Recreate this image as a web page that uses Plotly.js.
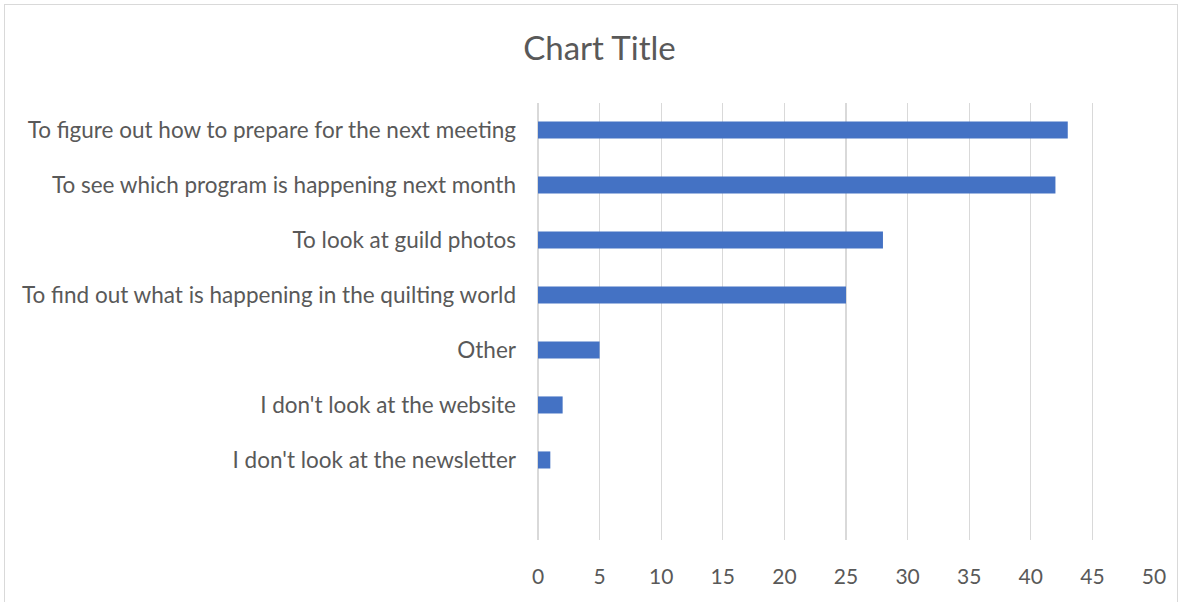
<!DOCTYPE html>
<html>
<head>
<meta charset="utf-8">
<script src="https://cdn.plot.ly/plotly-3.0.1.min.js"></script>
<style>
  html, body { margin: 0; padding: 0; background: #fff; }
  #frame { position: absolute; left: 4px; top: 4px; width: 1172px; height: 640px; border: 1px solid #d9d9d9; }
  #chart { position: absolute; left: 0; top: 0; width: 1180px; height: 602px; }
</style>
</head>
<body>
<div id="frame"></div>
<div id="chart"></div>
<script>
// categories listed bottom to top, like the excel chart
const categories = [
    "I don't look at the newsletter",
    "I don't look at the website",
    "Other",
    "To find out what is happening in the quilting world",
    "To look at guild photos",
    "To see which program is happening next month",
    "To figure out how to prepare for the next meeting"
];
const counts = [1, 2, 5, 25, 28, 42, 43];
const xTicks = [0, 5, 10, 15, 20, 25, 30, 35, 40, 45, 50];

const fontFamily = 'Lato, "Open Sans", sans-serif';

const trace = {
    type: 'bar',
    orientation: 'h',
    x: counts,
    y: categories,
    marker: { color: '#4472C4' },
    hoverinfo: 'x+y'
};

const layout = {
    width: 1180,
    height: 602,
    margin: { l: 538, r: 26, t: 103, b: 62 },
    paper_bgcolor: 'rgba(0,0,0,0)',
    plot_bgcolor: 'rgba(0,0,0,0)',
    showlegend: false,
    bargap: 0.69,
    title: {
        text: 'Chart Title',
        font: { family: fontFamily, size: 33, color: '#595959' },
        x: 0.508,
        xanchor: 'center',
        y: 1 - 48 / 602,
        yanchor: 'middle',
        yref: 'container'
    },
    xaxis: {
        range: [0, 50],
        tickvals: xTicks,
        ticktext: xTicks.map(String),
        showgrid: true,
        gridcolor: '#d9d9d9',
        gridwidth: 1.3,
        zeroline: true,
        zerolinecolor: '#d9d9d9',
        zerolinewidth: 1.3,
        showline: false,
        ticks: '',
        ticklabelstandoff: 22,
        tickfont: { family: fontFamily, size: 21, color: '#595959' },
        fixedrange: true
    },
    yaxis: {
        type: 'category',
        range: [-1.455, 6.49],
        showgrid: false,
        zeroline: false,
        showline: false,
        ticks: '',
        ticklabelstandoff: 21,
        tickfont: { family: fontFamily, size: 22.5, color: '#595959' },
        fixedrange: true
    }
};

Plotly.newPlot('chart', [trace], layout, { displayModeBar: false, staticPlot: true });
</script>
</body>
</html>
